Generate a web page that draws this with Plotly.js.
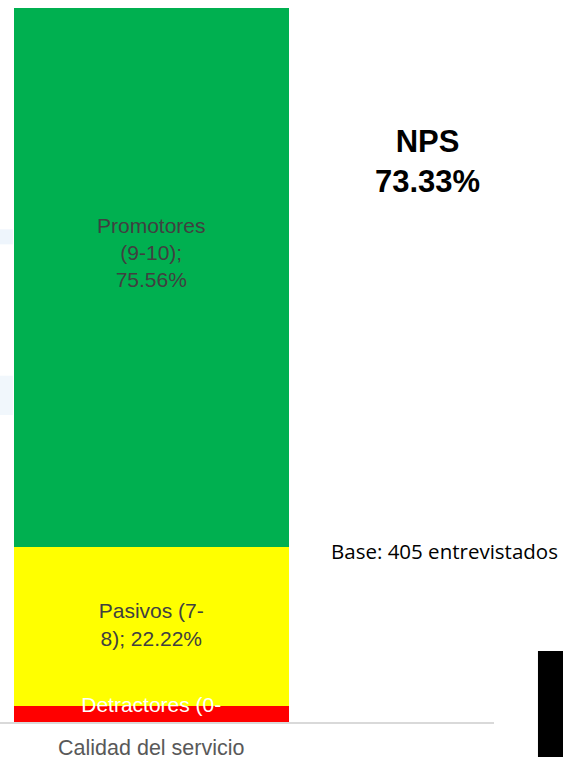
<!DOCTYPE html>
<html>
<head>
<meta charset="utf-8">
<script src="https://cdn.plot.ly/plotly-3.0.1.min.js"></script>
<style>html,body{margin:0;padding:0;background:#fff;}#chart{width:563px;height:757px;}</style>
</head>
<body>
<div id="chart"></div>
<script>
// ---- data ----
const category = ["Calidad del servicio"];
const seriesNames = ["Detractores (0-6)", "Pasivos (7-8)", "Promotores (9-10)"];
const labelWrapped = ["Detractores (0-<br>6); ", "Pasivos (7-<br>8); ", "Promotores<br>(9-10);<br>"];
const counts = [9, 90, 306];
const base = 405;
const percents = counts.map(c => c / base * 100);

// ---- styles ----
const colors = ["#FF0000", "#FFFF00", "#00B050"];
const labelColors = ["#FFFFFF", "#404040", "#404040"];
const labelOffsets = [-0.9, 0.0, 3.2];

const traces = [];
let cum = 0;
percents.forEach((p, i) => {
  traces.push({
    type: "bar", x: category, y: [p], name: seriesNames[i],
    marker: {color: colors[i], line: {width: 0}}, width: 0.8,
    hoverinfo: "skip", showlegend: false
  });
});
percents.forEach((p, i) => {
  traces.push({
    type: "scatter", mode: "text", x: category, y: [cum + p / 2 + labelOffsets[i]],
    text: [labelWrapped[i] + p.toFixed(2) + "%"],
    textposition: "middle center", cliponaxis: true,
    textfont: {family: "Liberation Sans, Arial, sans-serif", size: 21, color: labelColors[i]},
    hoverinfo: "skip", showlegend: false
  });
  cum += p;
});

const nps = (counts[2] - counts[0]) / base * 100;

const layout = {
  width: 563, height: 757,
  margin: {l: 0, r: 69, t: 8, b: 35, pad: 0},
  barmode: "stack", bargap: 0,
  paper_bgcolor: "#fff", plot_bgcolor: "rgba(0,0,0,0)",
  xaxis: {
    type: "category", range: [-0.44, 0.997], showgrid: false, zeroline: false,
    showline: true, linecolor: "#d9d9d9", linewidth: 1.5, ticks: "",
    ticklabelstandoff: 6,
    tickfont: {family: "Liberation Sans, Arial, sans-serif", size: 21.5, color: "#595959"},
    fixedrange: true
  },
  yaxis: {range: [0, 100], visible: false, showgrid: false, zeroline: false, fixedrange: true},
  shapes: [
    {type: "rect", xref: "paper", yref: "paper", x0: 1.089, x1: 1.14, y0: -0.06, y1: 0.0994,
     fillcolor: "#000", line: {width: 0}, layer: "above"},
    {type: "rect", xref: "paper", yref: "paper", x0: -0.01, x1: 0.026, y0: 0.669, y1: 0.69,
     fillcolor: "#eef5fc", line: {width: 0}, layer: "below"},
    {type: "rect", xref: "paper", yref: "paper", x0: -0.01, x1: 0.026, y0: 0.43, y1: 0.485,
     fillcolor: "#f1f7fc", line: {width: 0}, layer: "below"}
  ],
  annotations: [
    {xref: "paper", yref: "paper", x: 0.866, y: 0.785, xanchor: "center", yanchor: "middle",
     text: "<b>NPS<br>" + nps.toFixed(2) + "%</b>", showarrow: false,
     font: {family: "Liberation Sans, Arial, sans-serif", size: 31, color: "#000"}},
    {xref: "paper", yref: "paper", x: 0.9008, y: 0.2395, xanchor: "center", yanchor: "middle",
     text: "Base: " + base + " entrevistados", showarrow: false,
     font: {family: "Open Sans, Noto Sans, sans-serif", size: 20.5, color: "#000"}}
  ]
};

Plotly.newPlot("chart", traces, layout, {displayModeBar: false, staticPlot: true});
</script>
</body>
</html>
